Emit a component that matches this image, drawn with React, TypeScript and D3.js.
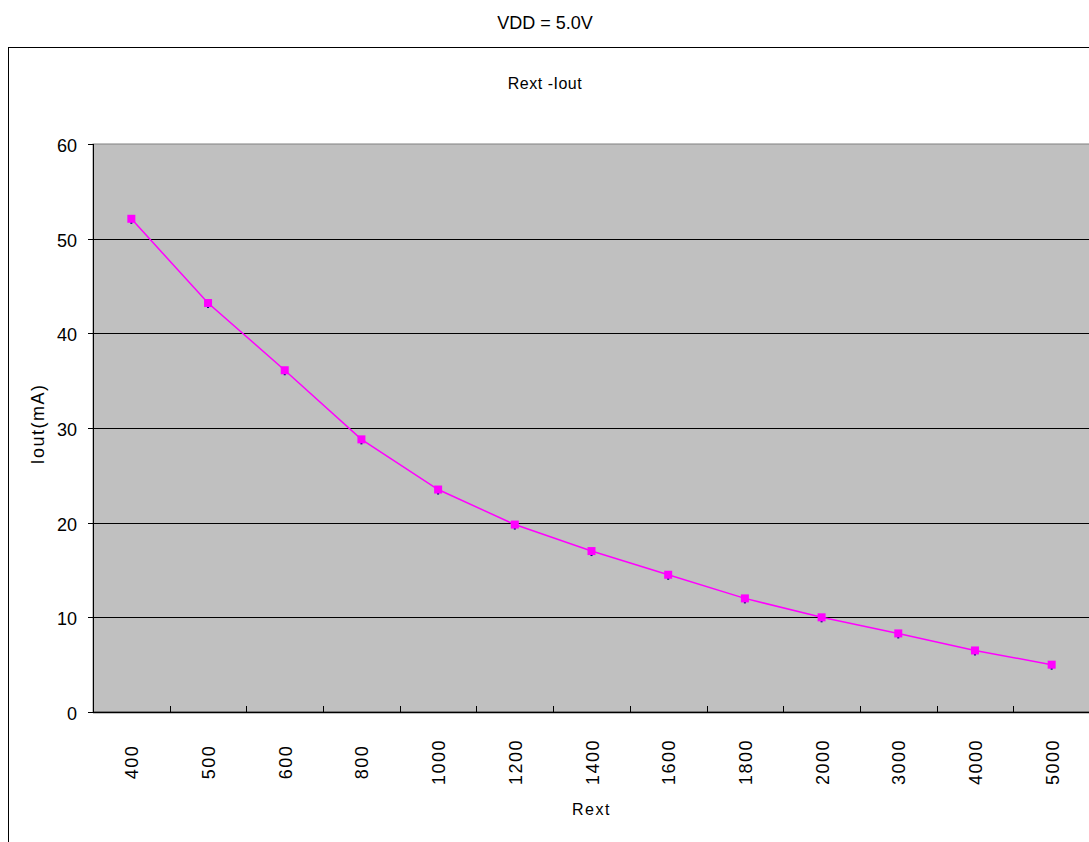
import * as d3 from "d3";
import React, { useEffect, useRef } from "react";

const categories = ["400", "500", "600", "800", "1000", "1200", "1400", "1600", "1800", "2000", "3000", "4000", "5000"];
const iout = [52.1, 43.2, 36.1, 28.8, 23.5, 19.8, 17.0, 14.5, 12.0, 10.0, 8.3, 6.5, 5.0];
const yTicks = [0, 10, 20, 30, 40, 50, 60];

const W = 1089;
const H = 842;
const margin = { left: 93, top: 144, right: -1, bottom: 130 };

const App = () => {
  const svgRef = useRef(null);

  useEffect(() => {
    const svg = d3.select(svgRef.current);
    svg.selectAll("*").remove();
    const font = "Liberation Sans, Arial, sans-serif";

    const x0 = margin.left;
    const x1 = W - margin.right;
    const y0 = margin.top;
    const y1 = H - margin.bottom;

    const x = d3.scaleBand().domain(categories).range([x0, x1]);
    const y = d3.scaleLinear().domain([0, 60]).range([y1, y0]);

    // outer chart frame
    svg
      .append("rect")
      .attr("x", 8.5)
      .attr("y", 47.5)
      .attr("width", W + 20)
      .attr("height", H)
      .attr("fill", "#fff")
      .attr("stroke", "#000")
      .attr("stroke-width", 1);

    svg
      .append("text")
      .attr("x", 545)
      .attr("y", 29)
      .attr("text-anchor", "middle")
      .attr("font-family", font)
      .attr("font-size", 18)
      .text("VDD = 5.0V");

    svg
      .append("text")
      .attr("x", 545)
      .attr("y", 89)
      .attr("text-anchor", "middle")
      .attr("font-family", font)
      .attr("font-size", 16)
      .attr("letter-spacing", 0.5)
      .text("Rext -Iout");

    // plot area
    svg
      .append("rect")
      .attr("x", x0)
      .attr("y", y0)
      .attr("width", x1 - x0)
      .attr("height", y1 - y0)
      .attr("fill", "#c0c0c0")
      .attr("stroke", "#808080");

    // gridlines
    svg
      .append("g")
      .selectAll("line")
      .data(yTicks.filter((d) => d > 0 && d < 60))
      .enter()
      .append("line")
      .attr("x1", x0)
      .attr("x2", x1)
      .attr("y1", (d) => Math.round(y(d)) + 0.5)
      .attr("y2", (d) => Math.round(y(d)) + 0.5)
      .attr("stroke", "#000");

    // y axis
    const yg = svg.append("g");
    yg.append("line")
      .attr("x1", x0 + 0.5)
      .attr("x2", x0 + 0.5)
      .attr("y1", y0)
      .attr("y2", y1)
      .attr("stroke", "#000");
    yTicks.forEach((t) => {
      const yy = Math.round(y(t)) + 0.5;
      yg.append("line")
        .attr("x1", x0 - 5)
        .attr("x2", x0)
        .attr("y1", yy)
        .attr("y2", yy)
        .attr("stroke", "#000");
      yg.append("text")
        .attr("x", x0 - 16)
        .attr("y", yy + 7)
        .attr("text-anchor", "end")
        .attr("font-family", font)
        .attr("font-size", 18)
        .text(t);
    });

    // x axis
    const xg = svg.append("g");
    xg.append("line")
      .attr("x1", x0)
      .attr("x2", x1)
      .attr("y1", y1 + 0.5)
      .attr("y2", y1 + 0.5)
      .attr("stroke", "#000")
      .attr("stroke-width", 1.5);
    categories.forEach((c, i) => {
      if (i > 0) {
        const xx = Math.round(x(c)) + 0.5;
        xg.append("line")
          .attr("x1", xx)
          .attr("x2", xx)
          .attr("y1", y1)
          .attr("y2", y1 - 6)
          .attr("stroke", "#000");
      }
      const cx = x(c) + x.bandwidth() / 2;
      xg.append("text")
        .attr("transform", `translate(${cx + 7},762) rotate(-90)`)
        .attr("text-anchor", "middle")
        .attr("font-family", font)
        .attr("font-size", 18)
        .attr("letter-spacing", 1.5)
        .text(c);
    });

    svg
      .append("text")
      .attr("x", (x0 + x1) / 2)
      .attr("y", 815)
      .attr("text-anchor", "middle")
      .attr("font-family", font)
      .attr("font-size", 16)
      .attr("letter-spacing", 1.5)
      .text("Rext");

    svg
      .append("text")
      .attr("transform", `translate(44,424) rotate(-90)`)
      .attr("text-anchor", "middle")
      .attr("font-family", font)
      .attr("font-size", 18)
      .attr("letter-spacing", 1.5)
      .text("Iout(mA)");

    // series
    const pts = categories.map((c, i) => [x(c) + x.bandwidth() / 2, y(iout[i])]);
    svg
      .append("path")
      .attr("d", d3.line()(pts))
      .attr("fill", "none")
      .attr("stroke", "#ff00ff")
      .attr("stroke-width", 1.5);

    const mk = svg.append("g");
    mk.selectAll("rect.shadow")
      .data(pts)
      .enter()
      .append("rect")
      .attr("class", "shadow")
      .attr("x", (d) => d[0] - 1)
      .attr("y", (d) => d[1] + 2)
      .attr("width", 2)
      .attr("height", 3)
      .attr("fill", "#000080");
    mk.selectAll("rect.marker")
      .data(pts)
      .enter()
      .append("rect")
      .attr("class", "marker")
      .attr("x", (d) => d[0] - 4)
      .attr("y", (d) => d[1] - 4)
      .attr("width", 8)
      .attr("height", 8)
      .attr("fill", "#ff00ff");
  }, []);

  return (
    <svg
      ref={svgRef}
      width={W}
      height={H}
      style={{ position: "absolute", left: 0, top: 0, display: "block" }}
    ></svg>
  );
};

export default App;
